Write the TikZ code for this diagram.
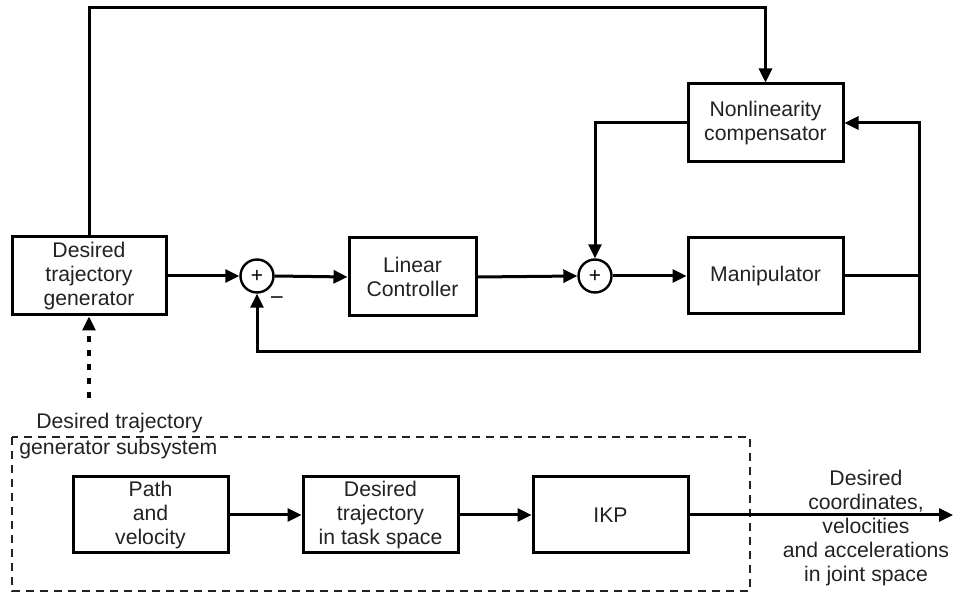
\documentclass[tikz,border=0pt]{standalone}
\usepackage{fontspec}
\setmainfont{Liberation Sans}
\usetikzlibrary{arrows.meta}
\definecolor{ink}{HTML}{222222}
\begin{document}
\begin{tikzpicture}[x=0.5pt,y=-0.5pt,
  font=\fontsize{10.6}{12}\selectfont,
  block/.style={draw=black,line width=1.5pt,inner sep=0pt,align=center,text=ink},
  summer/.style={draw=black,line width=1.2pt,circle,inner sep=0pt,minimum size=16.5pt,font=\fontsize{10.5}{11}\selectfont},
  wire/.style={line width=1.5pt},
  flow/.style={wire,-{Triangle[length=7pt,width=6.5pt]}},
  lbl/.style={text=ink,align=center,inner sep=0pt}]
\useasboundingbox (0,0) rectangle (953,592);

% control loop
\node[block,minimum width=77pt,minimum height=39pt] (dtg) at (89,276) {Desired\\trajectory\\generator};
\node[summer] (s1) at (257,276) {+};
\node[block,minimum width=63.5pt,minimum height=39pt] (lc) at (412.5,277) {Linear\\Controller};
\node[summer] (s2) at (595,276) {+};
\node[block,minimum width=77.5pt,minimum height=38pt] (man) at (765.5,276) {Manipulator};
\node[block,minimum width=77.5pt,minimum height=39pt] (nc) at (765.5,123) {Nonlinearity\\compensator};
\node[lbl,font=\fontsize{12}{12}\selectfont] (minus) at (277,301) {\textminus};

\coordinate (top) at (89,8);
\coordinate (jn) at (919,276);
\coordinate (fb) at (919,352);

\draw[flow] (dtg.east) -- (s1.west);
\draw[flow] (s1.east) -- (lc.west);
\draw[flow] (lc.east) -- (s2.west);
\draw[flow] (s2.east) -- (man.west);
\draw[wire] (man.east) -- (jn);
\draw[flow] (jn) -- (fb) -| (s1.south);
\draw[flow] (jn) |- (nc.east);
\draw[flow] (nc.west) -| (s2.north);
\draw[flow] (dtg.north) -- (top) -| (nc.north);

% trajectory generator subsystem
\coordinate (dstart) at (89,398);
\draw[line width=1.6pt,dash pattern=on 3pt off 4pt,-{Triangle[length=7pt,width=6.5pt]}] (dstart) -- (dtg.south);
\draw[line width=0.6pt,dash pattern=on 4pt off 3pt,draw=ink] (12,437) rectangle (750,591);
\node[lbl,anchor=west] (subA) at (36,423) {Desired trajectory};
\node[lbl,anchor=west] (subB) at (19,449) {generator subsystem};

\node[block,minimum width=77.5pt,minimum height=38pt] (pv) at (150.5,515) {Path\\and\\velocity};
\node[block,minimum width=77.5pt,minimum height=38pt] (dt) at (380.5,515) {Desired\\trajectory\\in task space};
\node[block,minimum width=77.5pt,minimum height=38pt] (ikp) at (610.5,515) {IKP};
\coordinate (out) at (953,515);
\draw[flow] (pv.east) -- (dt.west);
\draw[flow] (dt.east) -- (ikp.west);
\draw[flow] (ikp.east) -- (out);
\node[lbl] (outlbl) at (866,528) {Desired\\coordinates,\\velocities\\and accelerations\\in joint space};
\end{tikzpicture}
\end{document}
